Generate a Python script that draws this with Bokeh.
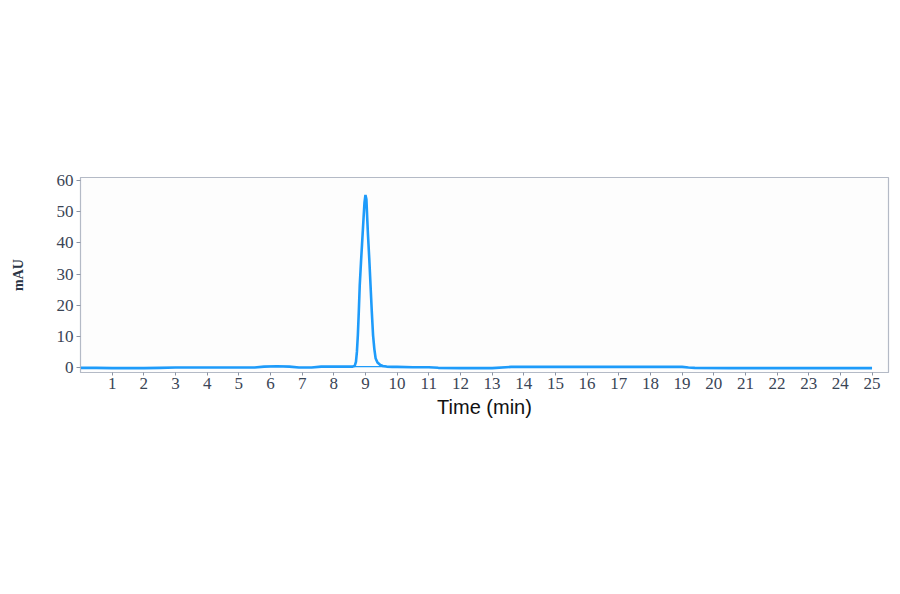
from bokeh.plotting import figure
from bokeh.models import FixedTicker, Range1d
from bokeh.embed import file_html
from bokeh.resources import INLINE

# chromatogram: time (min) and absorbance (mAU)
time_min = [0.0, 0.5, 1.0, 1.5, 2.0, 2.5, 3.0, 3.5, 4.0, 4.5, 5.0, 5.5, 5.8, 6.2, 6.6, 6.9,
            7.3, 7.6, 8.0, 8.4, 8.60, 8.66, 8.70, 8.73, 8.76, 8.79, 8.82, 8.86, 8.90, 8.94,
            8.97, 9.00, 9.03, 9.06, 9.08, 9.12, 9.16, 9.20, 9.24, 9.28, 9.32, 9.38, 9.47,
            9.55, 9.67, 9.85, 10.0, 10.5, 11.0, 11.3, 12.0, 13.0, 13.6, 14.5, 16.0, 17.5,
            19.0, 19.2, 19.4, 20.5, 22.0, 23.5, 25.0]
mau = [-0.1, -0.1, -0.2, -0.2, -0.2, -0.1, 0.0, 0.0, 0.0, 0.0, 0.0, 0.0, 0.3, 0.4, 0.3, 0.0,
       0.0, 0.3, 0.3, 0.3, 0.3, 0.5, 1.8, 5.0, 10.4, 18.0, 26.5, 34.0, 41.0, 48.0,
       53.0, 55.4, 54.0, 47.0, 42.6, 35.0, 26.5, 18.0, 10.4, 6.0, 3.0, 1.6, 0.8,
       0.5, 0.3, 0.2, 0.2, 0.1, 0.1, -0.1, -0.2, -0.2, 0.2, 0.2, 0.2, 0.2,
       0.2, 0.0, -0.1, -0.2, -0.2, -0.2, -0.2]

# integration baseline drawn under the peak
base_t = [8.66, 9.67]
base_v = [0.3, 0.3]

x_ticks = list(range(1, 26))
y_ticks = [0, 10, 20, 30, 40, 50, 60]

p = figure(width=892, height=586, output_backend="svg", toolbar_location=None,
           x_range=Range1d(0, 25.52), y_range=Range1d(-1.6, 61),
           x_axis_label="Time (min)", y_axis_label="mAU",
           min_border_left=80, min_border_right=4, min_border_top=177, min_border_bottom=214)

p.line(time_min, mau, line_color="#1e9bfa", line_width=2.6)
p.line(base_t, base_v, line_color="#1e9bfa", line_width=1.2)

p.background_fill_color = "#fdfdfd"
p.border_fill_color = "#ffffff"
p.outline_line_color = "#b4bac6"
p.outline_line_width = 1.2
p.grid.visible = False

for ax in (p.xaxis[0], p.yaxis[0]):
    ax.axis_line_color = "#b4bac6"
    ax.major_tick_line_color = "#8a93a3"
    ax.minor_tick_line_color = None
    ax.major_tick_in = 0
    ax.major_label_text_font = "Liberation Serif"
    ax.major_label_text_font_size = "17px"
    ax.major_label_text_color = "#3a4556"

p.xaxis.ticker = FixedTicker(ticks=x_ticks)
p.yaxis.ticker = FixedTicker(ticks=y_ticks)
p.xaxis.major_tick_out = 3
p.yaxis.major_tick_out = 4
p.xaxis.major_label_standoff = 2
p.yaxis.major_label_standoff = 3

p.xaxis.axis_label_text_font = "Liberation Sans"
p.xaxis.axis_label_text_font_style = "normal"
p.xaxis.axis_label_text_font_size = "20px"
p.xaxis.axis_label_text_color = "#111111"
p.xaxis.axis_label_standoff = 4

p.yaxis.axis_label_text_font = "Liberation Serif"
p.yaxis.axis_label_text_font_style = "bold"
p.yaxis.axis_label_text_font_size = "14px"
p.yaxis.axis_label_text_color = "#2a3444"
p.yaxis.axis_label_standoff = 28

open("out.html", "w").write(file_html(p, INLINE))
